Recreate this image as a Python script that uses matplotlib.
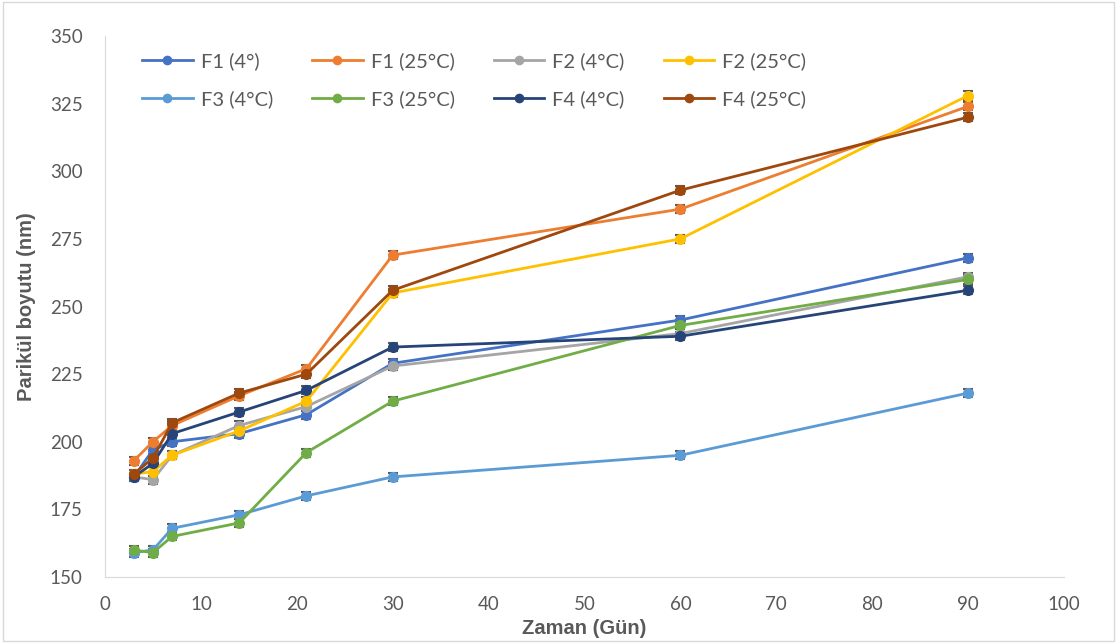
import numpy as np
import matplotlib.pyplot as plt
from matplotlib.patches import Rectangle

plt.rcParams['font.family'] = ['Lato', 'DejaVu Sans']

# Zaman (gün)
days = [3, 5, 7, 14, 21, 30, 60, 90]

f1_4 = [187, 197, 200, 203, 210, 229, 245, 268]
f1_25 = [193, 200, 206, 217, 227, 269, 286, 324]
f2_4 = [187, 186, 195, 206, 213, 228, 240, 261]
f2_25 = [188, 189, 195, 204, 215, 255, 275, 328]
f3_4 = [159, 160, 168, 173, 180, 187, 195, 218]
f3_25 = [160, 159, 165, 170, 196, 215, 243, 260]
f4_4 = [187, 192, 203, 211, 219, 235, 239, 256]
f4_25 = [188, 194, 207, 218, 225, 256, 293, 320]

labels = ["F1 (4°)", "F1 (25°C)", "F2 (4°C)", "F2 (25°C)",
          "F3 (4°C)", "F3 (25°C)", "F4 (4°C)", "F4 (25°C)"]
series = [f1_4, f1_25, f2_4, f2_25, f3_4, f3_25, f4_4, f4_25]
colors = ["#4472C4", "#ED7D31", "#A5A5A5", "#FFC000",
          "#5B9BD5", "#70AD47", "#264478", "#9E480E"]
err = 1.5

fig = plt.figure(figsize=(11.17, 6.43), dpi=100)
ax = fig.add_axes([105/1117, 1 - 577/643, (1064-105)/1117, (577-36)/643])

# rahmen
fig.patches.append(Rectangle((0.003, 0.003), 0.994, 0.994, transform=fig.transFigure,
                             fill=False, edgecolor="#D9D9D9", linewidth=1))

handles = []
for y, c, lab in zip(series, colors, labels):
    ax.errorbar(days, y, yerr=err, fmt="none", ecolor="#595959",
                capsize=3.5, elinewidth=1, capthick=1.5, zorder=2)
    h, = ax.plot(days, y, color=c, lw=2, marker="o", ms=7, label=lab, zorder=3)
    handles.append(h)

ax.set_xlim(0, 100)
ax.set_ylim(150, 350)
ax.set_xticks(np.arange(0, 101, 10))
ax.set_yticks(np.arange(150, 351, 25))
ax.tick_params(length=0, labelsize=13.5, colors="#595959")
ax.tick_params(axis="x", pad=14)
ax.tick_params(axis="y", pad=16)
for s in ["top", "right"]:
    ax.spines[s].set_visible(False)
for s in ["left", "bottom"]:
    ax.spines[s].set_color("#D9D9D9")

ax.set_xlabel("Zaman (Gün)", fontsize=14.5, fontweight="bold", color="#595959",
              family="Liberation Sans", labelpad=4)
ax.set_ylabel("Parikül boyutu (nm)", fontsize=14.5, fontweight="bold", color="#595959",
              family="Liberation Sans", labelpad=10)

# satır sırası (Excel gibi)
order = [0, 4, 1, 5, 2, 6, 3, 7]
ax.legend(handles=[handles[i] for i in order], ncol=4, loc="upper left",
          bbox_to_anchor=(0.020, 1.003), frameon=False, fontsize=14.5,
          labelcolor="#595959", handlelength=2.5, handletextpad=0.4,
          columnspacing=1.95, labelspacing=1.0, markerscale=0.85)

fig.savefig("out.png", dpi=100)
